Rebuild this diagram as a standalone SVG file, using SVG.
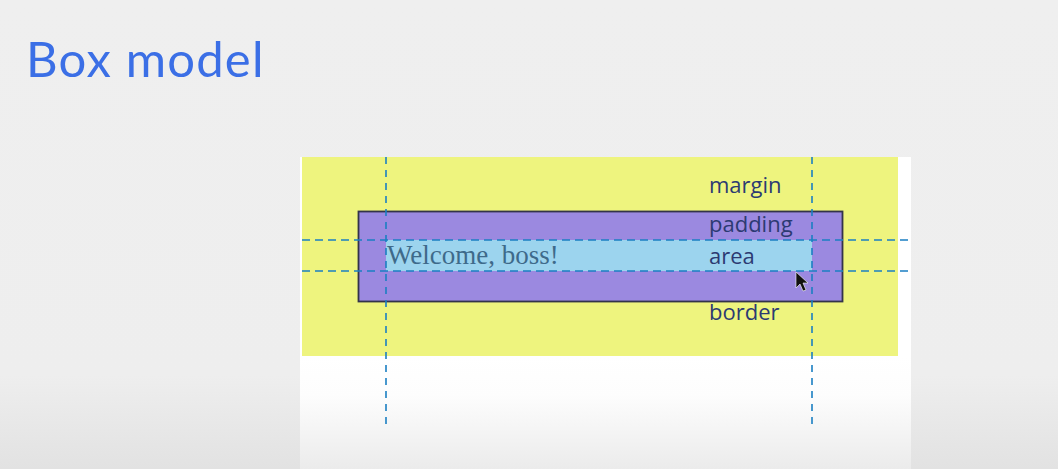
<svg xmlns="http://www.w3.org/2000/svg" width="1058" height="469" viewBox="0 0 1058 469">
<defs>
<linearGradient id="panel" gradientUnits="userSpaceOnUse" x1="0" y1="356" x2="0" y2="469">
<stop offset="0" stop-color="#ffffff"/>
<stop offset="0.35" stop-color="#fdfdfd"/>
<stop offset="1" stop-color="#ebebeb"/>
</linearGradient>
<linearGradient id="bg" x1="0" y1="0" x2="0" y2="1">
<stop offset="0" stop-color="#efefef"/>
<stop offset="0.8" stop-color="#eeeeee"/>
<stop offset="1" stop-color="#e2e2e2"/>
</linearGradient>
</defs>
<style>
.lbl{font-family:"Open Sans","Noto Sans",sans-serif;font-size:22px;fill:#2c3a72;}
.guide{stroke:#1b7fc2;stroke-width:1.6;fill:none;}
.h{stroke-dasharray:8 5;}
.v{stroke-dasharray:7 6;}
</style>
<rect width="1058" height="469" fill="url(#bg)"/>
<text x="26" y="77" font-family="Lato,'Noto Sans',sans-serif" font-size="49" letter-spacing="1.2" fill="#3b6fe6">Box model</text>
<g id="page">
<rect x="300" y="157" width="611" height="312" fill="url(#panel)"/>
</g>
<g id="margin">
<rect x="302" y="157" width="596" height="199" fill="#eef47e"/>
</g>
<g id="border">
<rect x="358.5" y="211.5" width="484" height="90" fill="#9b89e0" stroke="#33334a" stroke-width="1.8"/>
</g>
<g id="content">
<rect x="386" y="240" width="426" height="31" fill="#9cd4ee"/>
<text x="387" y="264" font-family="'Liberation Serif',serif" font-size="27" fill="#3e6a8a">Welcome, boss!</text>
</g>
<g id="labels">
<text class="lbl" x="709" y="193">margin</text>
<text class="lbl" x="709" y="232">padding</text>
<text class="lbl" x="709" y="264">area</text>
<text class="lbl" x="709" y="320">border</text>
</g>
<g id="guides">
<line class="guide h" x1="302" y1="240" x2="912" y2="240"/>
<line class="guide h" x1="302" y1="271" x2="912" y2="271"/>
<line class="guide v" x1="386" y1="157" x2="386" y2="425"/>
<line class="guide v" x1="812" y1="157" x2="812" y2="425"/>
</g>
<g id="cursor">
<polygon points="796,272 796,288 800,284 803,291 806,290 803,283 808,283" fill="#111" stroke="#fff" stroke-width="0.6"/>
</g>
</svg>
